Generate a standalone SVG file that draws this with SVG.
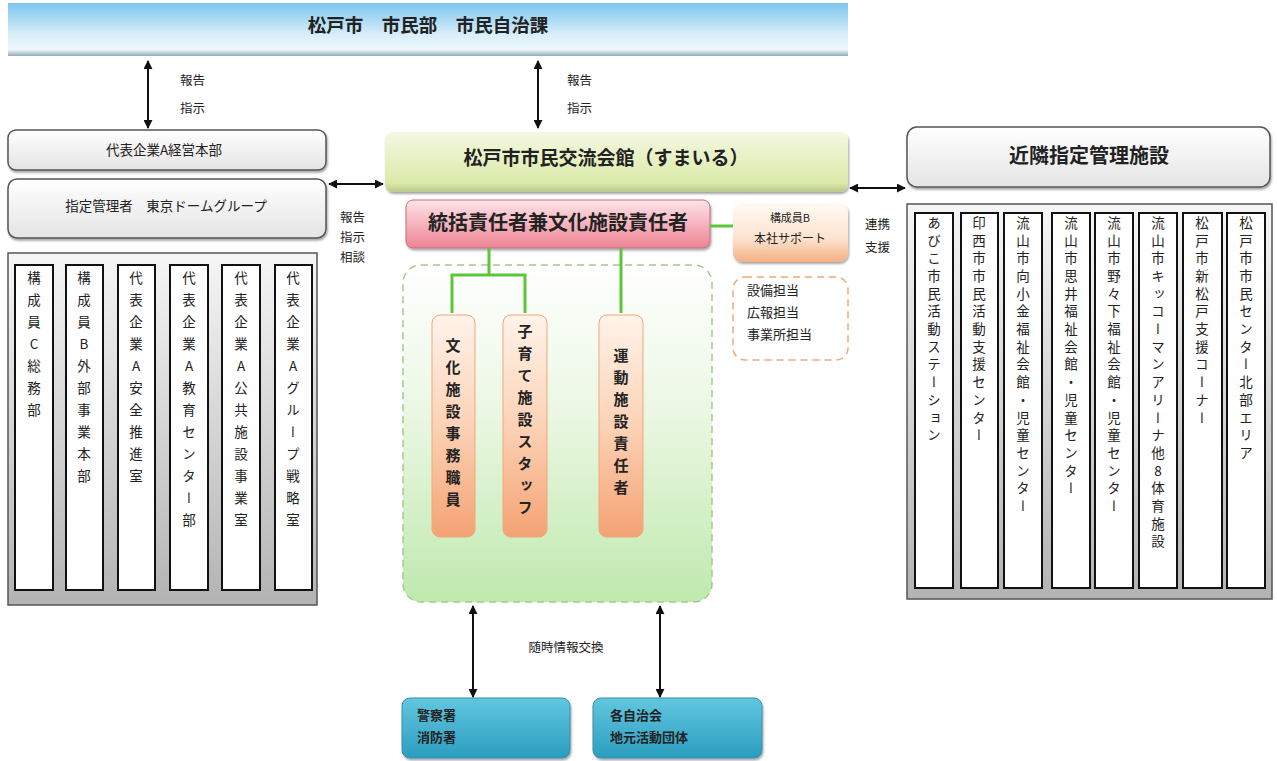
<svg xmlns="http://www.w3.org/2000/svg" width="1277" height="761" viewBox="0 0 1277 761">
<defs>
<linearGradient id="gBanner" x1="0" y1="0" x2="0" y2="1">
<stop offset="0" stop-color="#7cc6ee"/><stop offset="0.6" stop-color="#d9eef9"/><stop offset="0.88" stop-color="#eef8fc"/><stop offset="1" stop-color="#8fa9b6"/>
</linearGradient>
<linearGradient id="gWhite" x1="0" y1="0" x2="0" y2="1">
<stop offset="0" stop-color="#ffffff"/><stop offset="1" stop-color="#e4e4e4"/>
</linearGradient>
<linearGradient id="gLime" x1="0" y1="0" x2="0" y2="1">
<stop offset="0" stop-color="#f4f8e2"/><stop offset="0.85" stop-color="#dbeaa8"/><stop offset="1" stop-color="#b9c98e"/>
</linearGradient>
<linearGradient id="gPink" x1="0" y1="0" x2="0" y2="1">
<stop offset="0" stop-color="#fde4e8"/><stop offset="1" stop-color="#ee8394"/>
</linearGradient>
<linearGradient id="gPeach" x1="0" y1="0" x2="0" y2="1">
<stop offset="0" stop-color="#fffaf5"/><stop offset="0.6" stop-color="#fde3cf"/><stop offset="1" stop-color="#f4b083"/>
</linearGradient>
<linearGradient id="gOrange" x1="0" y1="0" x2="0" y2="1">
<stop offset="0" stop-color="#fff3ea"/><stop offset="0.5" stop-color="#fcd2b6"/><stop offset="1" stop-color="#f4a273"/>
</linearGradient>
<linearGradient id="gGreen" x1="0" y1="0" x2="0" y2="1">
<stop offset="0" stop-color="#ffffff"/><stop offset="0.45" stop-color="#eaf7e2"/><stop offset="1" stop-color="#bfe9ae"/>
</linearGradient>
<linearGradient id="gTeal" x1="0" y1="0" x2="0" y2="1">
<stop offset="0" stop-color="#62c7df"/><stop offset="1" stop-color="#2b9dc0"/>
</linearGradient>
<linearGradient id="gPanel" x1="0" y1="0" x2="0" y2="1">
<stop offset="0" stop-color="#f6f6f6"/><stop offset="1" stop-color="#b3b3b3"/>
</linearGradient>
<marker id="ah" viewBox="0 0 10 10" refX="9" refY="5" markerWidth="9" markerHeight="9" markerUnits="userSpaceOnUse" orient="auto-start-reverse">
<path d="M0,0 L10,5 L0,10 z" fill="#111"/>
</marker>
<filter id="sh" x="-5%" y="-5%" width="110%" height="120%">
<feDropShadow dx="1" dy="2" stdDeviation="1.2" flood-color="#000" flood-opacity="0.35"/>
</filter>
</defs>
<style>
text{font-family:"Noto Sans CJK JP","Noto Sans",sans-serif;fill:#222;}
.t13{font-size:13px;}
.t12{font-size:12px;}
.t11{font-size:11px;}
.big{font-size:18px;font-weight:bold;}
.lab{font-size:12.5px;}
.vl{font-size:13.5px;writing-mode:vertical-rl;text-orientation:upright;letter-spacing:8.5px;}
.vr{font-size:13.5px;writing-mode:vertical-rl;text-orientation:upright;letter-spacing:4.2px;}
.vo{font-size:15px;font-weight:bold;writing-mode:vertical-rl;text-orientation:upright;letter-spacing:7px;}
.col{fill:#fff;stroke:#111;stroke-width:2;}
.panel{fill:url(#gPanel);stroke:#555;stroke-width:1.5;}
.conn{stroke:#111;stroke-width:2;fill:none;marker-start:url(#ah);marker-end:url(#ah);}
.gl{stroke:#5cc53a;stroke-width:3;fill:none;}
.wbox{fill:url(#gWhite);stroke:#555;stroke-width:1.5;}
</style>

<g id="banner">
<rect x="8" y="3" width="840" height="53" fill="url(#gBanner)"/>
<text x="428" y="32" class="big" text-anchor="middle" style="font-size:18.5px">松戸市　市民部　市民自治課</text>
</g>

<g id="hq">
<rect x="8" y="130" width="318" height="40" rx="8" class="wbox" filter="url(#sh)"/>
<text x="164" y="155" class="t13" text-anchor="middle" style="font-size:13.5px">代表企業A経営本部</text>
</g>
<g id="tokyodome">
<rect x="8" y="179" width="318" height="59" rx="9" class="wbox" filter="url(#sh)"/>
<text x="166" y="211" class="t13" text-anchor="middle" style="font-size:13.5px">指定管理者　東京ドームグループ</text>
</g>

<g id="left-panel">
<rect x="8" y="253" width="309" height="352" class="panel"/>
<rect x="15" y="265" width="38" height="325" class="col"/>
<rect x="66" y="265" width="37" height="325" class="col"/>
<rect x="118" y="265" width="37" height="325" class="col"/>
<rect x="170" y="265" width="38" height="325" class="col"/>
<rect x="222" y="265" width="38" height="325" class="col"/>
<rect x="275" y="265" width="37" height="325" class="col"/>
<text x="34" y="271" class="vl">構成員C総務部</text>
<text x="84" y="271" class="vl">構成員B外部事業本部</text>
<text x="136" y="271" class="vl">代表企業A安全推進室</text>
<text x="189" y="271" class="vl">代表企業A教育センター部</text>
<text x="241" y="271" class="vl">代表企業A公共施設事業室</text>
<text x="293" y="271" class="vl">代表企業Aグループ戦略室</text>
</g>

<g id="sumairu">
<rect x="385" y="132" width="463" height="60" rx="8" fill="url(#gLime)" filter="url(#sh)"/>
<text x="606" y="165" class="big" text-anchor="middle" style="font-size:19px">松戸市市民交流会館（すまいる）</text>
</g>

<g id="neighbor">
<rect x="907" y="127" width="363" height="60" rx="10" class="wbox" filter="url(#sh)"/>
<text x="1089" y="163" class="big" text-anchor="middle" style="font-size:20px">近隣指定管理施設</text>
</g>

<g id="right-panel">
<rect x="907" y="204" width="365" height="395" class="panel"/>
<rect x="915" y="213" width="38" height="375" class="col"/>
<rect x="961" y="213" width="37" height="375" class="col"/>
<rect x="1004" y="213" width="38" height="375" class="col"/>
<rect x="1052" y="213" width="38" height="375" class="col"/>
<rect x="1095" y="213" width="38" height="375" class="col"/>
<rect x="1139" y="213" width="38" height="375" class="col"/>
<rect x="1183" y="213" width="39" height="375" class="col"/>
<rect x="1227" y="213" width="38" height="375" class="col"/>
<text x="934" y="216" class="vr">あびこ市民活動ステーション</text>
<text x="979" y="216" class="vr">印西市市民活動支援センター</text>
<text x="1023" y="216" class="vr">流山市向小金福祉会館・児童センター</text>
<text x="1071" y="216" class="vr">流山市思井福祉会館・児童センター</text>
<text x="1114" y="216" class="vr">流山市野々下福祉会館・児童センター</text>
<text x="1158" y="216" class="vr">流山市キッコーマンアリーナ他8体育施設</text>
<text x="1202" y="216" class="vr">松戸市新松戸支援コーナー</text>
<text x="1246" y="216" class="vr">松戸市市民センター北部エリア</text>
</g>

<g id="staff-area">
<rect x="403" y="265" width="309" height="337" rx="18" fill="url(#gGreen)" stroke="#a5c98c" stroke-width="1.5" stroke-dasharray="7,5"/>
</g>

<g id="chief">
<rect x="406" y="200" width="304" height="48" rx="7" fill="url(#gPink)" stroke="#c46d7a" stroke-width="1" filter="url(#sh)"/>
<text x="558" y="230" class="big" text-anchor="middle" style="font-size:20px">統括責任者兼文化施設責任者</text>
</g>

<g id="memberB">
<rect x="733" y="203" width="115" height="59" rx="9" fill="url(#gPeach)" filter="url(#sh)"/>
<text x="790" y="222" class="t11" text-anchor="middle">構成員B</text>
<text x="790" y="243" class="t12" text-anchor="middle">本社サポート</text>
</g>

<g id="tantou">
<rect x="733" y="277" width="115" height="83" rx="12" fill="#fff" stroke="#f0a878" stroke-width="1.5" stroke-dasharray="7,5"/>
<text x="747" y="295" class="t13">設備担当</text>
<text x="747" y="317" class="t13">広報担当</text>
<text x="747" y="339" class="t13">事業所担当</text>
</g>

<g id="bunka">
<rect x="432" y="315" width="43" height="222" rx="8" fill="url(#gOrange)" stroke="#f2a77a" stroke-width="1"/>
<text x="453" y="338" class="vo">文化施設事務職員</text>
</g>
<g id="kosodate">
<rect x="503" y="315" width="44" height="222" rx="8" fill="url(#gOrange)" stroke="#f2a77a" stroke-width="1"/>
<text x="525" y="324" class="vo">子育て施設スタッフ</text>
</g>
<g id="undou">
<rect x="599" y="315" width="44" height="222" rx="8" fill="url(#gOrange)" stroke="#f2a77a" stroke-width="1"/>
<text x="621" y="348" class="vo">運動施設責任者</text>
</g>

<g id="police">
<rect x="402" y="698" width="168" height="60" rx="8" fill="url(#gTeal)" stroke="#3a8fa8" stroke-width="1" filter="url(#sh)"/>
<text x="417" y="720" class="t13" style="font-weight:bold">警察署</text>
<text x="417" y="742" class="t13" style="font-weight:bold">消防署</text>
</g>
<g id="community">
<rect x="593" y="698" width="169" height="60" rx="8" fill="url(#gTeal)" stroke="#3a8fa8" stroke-width="1" filter="url(#sh)"/>
<text x="610" y="720" class="t13" style="font-weight:bold">各自治会</text>
<text x="610" y="742" class="t13" style="font-weight:bold">地元活動団体</text>
</g>

<g id="connectors">
<line x1="148" y1="61" x2="148" y2="128" class="conn"/>
<line x1="538" y1="61" x2="538" y2="128" class="conn"/>
<line x1="329" y1="184" x2="383" y2="184" class="conn"/>
<line x1="850" y1="188" x2="905" y2="188" class="conn"/>
<line x1="473" y1="606" x2="473" y2="697" class="conn"/>
<line x1="660" y1="606" x2="660" y2="697" class="conn"/>
<path d="M489,248 V275 M452,313 V275 H525 V313 M621,248 V313 M710,226 H733" class="gl"/>
<text x="180" y="85" class="lab">報告</text>
<text x="180" y="113" class="lab">指示</text>
<text x="567" y="85" class="lab">報告</text>
<text x="567" y="113" class="lab">指示</text>
<text x="340" y="222" class="lab">報告</text>
<text x="340" y="242" class="lab">指示</text>
<text x="340" y="262" class="lab">相談</text>
<text x="865" y="229" class="lab">連携</text>
<text x="865" y="252" class="lab">支援</text>
<text x="566" y="652" class="lab" text-anchor="middle">随時情報交換</text>
</g>
</svg>
